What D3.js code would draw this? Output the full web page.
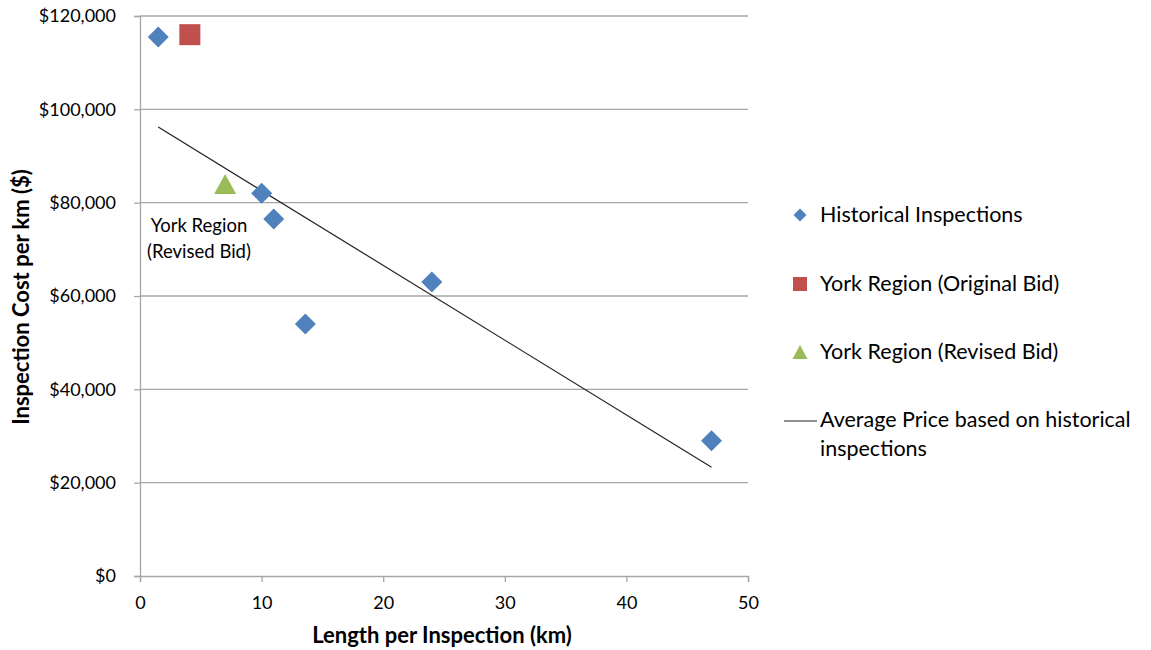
<!DOCTYPE html>
<html><head><meta charset="utf-8">
<script src="https://cdn.jsdelivr.net/npm/d3@7"></script>
<style>body{margin:0;background:#fff;} text{font-family:Lato,"Open Sans",sans-serif;}</style>
</head><body>
<svg id="c" width="1151" height="650"></svg>
<script>
// Data
const historicalX = [1.5, 10, 11, 13.6, 24, 47];
const historicalY = [115500, 82000, 76500, 54000, 63000, 29000];
const originalBidX = [4.1];
const originalBidY = [116000];
const revisedBidX = [7.0];
const revisedBidY = [84000];
const trendX = [1.5, 47];
const trendY = [96200, 23300];
const xTicks = [0, 10, 20, 30, 40, 50];
const yTicks = [0, 20000, 40000, 60000, 80000, 100000, 120000];
const legendLabels = ["Historical Inspections", "York Region (Original Bid)", "York Region (Revised Bid)", "Average Price based on historical inspections"];

const svg = d3.select("#c");
const x = d3.scaleLinear().domain([0, 50]).range([140, 748]);
const y = d3.scaleLinear().domain([0, 120000]).range([576, 16]);
const blue = "#4F81BD", red = "#C0504D", green = "#9BBB59", grid = "#A6A6A6";

// gridlines
svg.append("g").selectAll("line").data(yTicks.filter(d => d > 0)).join("line")
  .attr("x1", x(0)).attr("x2", x(50)).attr("y1", d => y(d)).attr("y2", d => y(d))
  .attr("stroke", grid).attr("stroke-width", 1.3);

// axes
const fmt = d => "$" + d3.format(",")(d);
const yAxis = svg.append("g").attr("transform", `translate(${x(0)},0)`)
  .call(d3.axisLeft(y).tickValues(yTicks).tickFormat(fmt).tickSize(6).tickPadding(18));
const xAxis = svg.append("g").attr("transform", `translate(0,${y(0)})`)
  .call(d3.axisBottom(x).tickValues(xTicks).tickSize(6).tickPadding(14));
[yAxis, xAxis].forEach(a => {
  a.select(".domain").attr("stroke", grid).attr("stroke-width", 1.3);
  a.selectAll(".tick line").attr("stroke", grid).attr("stroke-width", 1.3);
  a.selectAll("text").attr("font-size", 18).attr("fill", "#000").attr("font-family", "Lato, sans-serif");
});

// axis titles
svg.append("text").attr("x", 442).attr("y", 643).attr("text-anchor", "middle")
  .attr("font-size", 22).attr("font-weight", "bold").text("Length per Inspection (km)");
svg.append("text").attr("transform", "translate(29,297) rotate(-90)").attr("text-anchor", "middle")
  .attr("font-size", 22).attr("font-weight", "bold").text("Inspection Cost per km ($)");

// trend line
svg.append("line").attr("x1", x(trendX[0])).attr("y1", y(trendY[0]))
  .attr("x2", x(trendX[1])).attr("y2", y(trendY[1]))
  .attr("stroke", "#222").attr("stroke-width", 1.2);

// markers
const diamond = s => `M0,${-s}L${s},0L0,${s}L${-s},0Z`;
svg.append("g").selectAll("path").data(historicalX.map((d, i) => [d, historicalY[i]])).join("path")
  .attr("transform", d => `translate(${x(d[0])},${y(d[1])})`).attr("d", diamond(10.5)).attr("fill", blue);
svg.append("g").selectAll("rect").data(originalBidX.map((d, i) => [d, originalBidY[i]])).join("rect")
  .attr("x", d => x(d[0]) - 10.5).attr("y", d => y(d[1]) - 10.5).attr("width", 21).attr("height", 21).attr("fill", red);
const tri = (w, h) => `M0,${-h/2}L${w/2},${h/2}L${-w/2},${h/2}Z`;
svg.append("g").selectAll("path").data(revisedBidX.map((d, i) => [d, revisedBidY[i]])).join("path")
  .attr("transform", d => `translate(${x(d[0])},${y(d[1])})`).attr("d", tri(22, 20)).attr("fill", green);

// annotation
svg.append("text").attr("x", 199).attr("y", 232).attr("text-anchor", "middle").attr("font-size", 18.5).text("York Region");
svg.append("text").attr("x", 199).attr("y", 258).attr("text-anchor", "middle").attr("font-size", 18.5).text("(Revised Bid)");

// legend
const lg = svg.append("g");
const lx = 820;
lg.append("path").attr("transform", "translate(800,215)").attr("d", diamond(6.5)).attr("fill", blue);
lg.append("rect").attr("x", 793).attr("y", 277).attr("width", 14).attr("height", 14).attr("fill", red);
lg.append("path").attr("transform", "translate(800,352)").attr("d", tri(15, 14)).attr("fill", green);
lg.append("line").attr("x1", 784).attr("x2", 817).attr("y1", 421).attr("y2", 421).attr("stroke", "#222").attr("stroke-width", 1.2);
const ly = [222, 291, 359, 427];
lg.selectAll("text.l").data(legendLabels.slice(0, 3)).join("text").attr("class", "l")
  .attr("x", lx).attr("y", (d, i) => ly[i]).attr("font-size", 21.5).text(d => d);
lg.append("text").attr("x", lx).attr("y", ly[3]).attr("font-size", 21.5).text("Average Price based on historical");
lg.append("text").attr("x", lx).attr("y", 456).attr("font-size", 21.5).text("inspections");
</script>
</body></html>
